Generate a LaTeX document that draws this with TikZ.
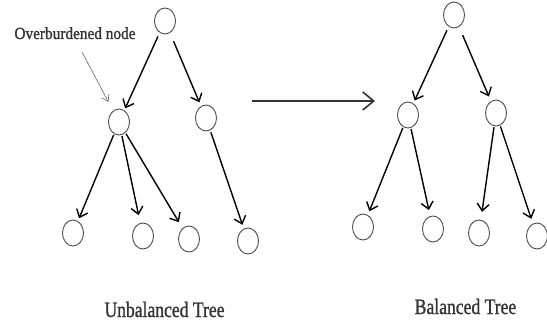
\documentclass[tikz,border=0pt]{standalone}
\usepackage{fontspec}
\setmainfont{Liberation Serif}
\newfontfamily\heavyserif{Liberation Serif}[FakeBold=1.2]
\usetikzlibrary{arrows.meta,shapes.geometric}

\tikzset{
  vertex/.style={ellipse, draw=black!70, line width=0.9pt, minimum width=21pt,
                 minimum height=26pt, inner sep=0pt},
  edge/.style={draw=black, line width=1.4pt,
               -{Straight Barb[length=7pt,width=12pt,line width=1.4pt]}},
  callout/.style={draw=black!60, line width=0.6pt,
                  -{Straight Barb[length=6pt,width=8pt,line width=0.6pt]}},
  bigarrow/.style={draw=black!80, line width=1.8pt,
                   -{Straight Barb[length=11pt,width=18pt,line width=1.6pt]}},
  caption/.style={text=black!80, inner sep=0pt, font=\heavyserif\fontsize{22}{24}\selectfont},
  note/.style={text=black!80, inner sep=0pt, font=\heavyserif\fontsize{17}{19}\selectfont}
}

\begin{document}
\begin{tikzpicture}[x=1pt, y=-1pt]
\useasboundingbox (0,0) rectangle (547,326);

% unbalanced tree
\node[vertex] (uroot) at (165,21) {};
\node[vertex] (uheavy) at (119,122) {};
\node[vertex] (uright) at (206,118) {};
\node[vertex] (ul1) at (73,233) {};
\node[vertex] (ul2) at (143,236) {};
\node[vertex] (ul3) at (189,239) {};
\node[vertex] (ul4) at (248,241) {};

\draw[edge, shorten <=4pt, shorten >=2pt] (uroot) -- (uheavy);
\draw[edge, shorten <=9pt, shorten >=4pt] (uroot) -- (uright);
\draw[edge, shorten <=1pt, shorten >=3pt] (uheavy) -- (ul1);
\draw[edge, shorten <=1pt, shorten >=8pt] (uheavy) -- (ul2);
\draw[edge, shorten <=1pt, shorten >=7pt] (uheavy) -- (ul3);
\draw[edge, shorten <=2pt, shorten >=4pt] (uright) -- (ul4);

% label for the overloaded vertex
\node[note, anchor=base] (heavylabel) at (75,39) {\scalebox{0.9}[1]{Overburdened node}};
\coordinate (calloutstart) at (82,52);
\draw[callout, shorten >=10pt] (calloutstart) -- (uheavy);

% transformation arrow
\coordinate (arrowstart) at (252,101);
\coordinate (arrowend) at (375,101);
\draw[bigarrow] (arrowstart) -- (arrowend);

% balanced tree
\node[vertex] (broot) at (454,15) {};
\node[vertex] (bleft) at (408,115) {};
\node[vertex] (bright) at (496,113) {};
\node[vertex] (bl1) at (363,227) {};
\node[vertex] (bl2) at (433,229) {};
\node[vertex] (bl3) at (479,233) {};
\node[vertex] (bl4) at (537,236) {};

\draw[edge, shorten <=4pt, shorten >=3pt] (broot) -- (bleft);
\draw[edge, shorten <=9pt, shorten >=5pt] (broot) -- (bright);
\draw[edge, shorten <=1pt, shorten >=4pt] (bleft) -- (bl1);
\draw[edge, shorten <=1pt, shorten >=6pt] (bleft) -- (bl2);
\draw[edge, shorten <=1pt, shorten >=8pt] (bright) -- (bl3);
\draw[edge, shorten <=1pt, shorten >=5pt] (bright) -- (bl4);

% captions
\node[caption, anchor=base] (ucap) at (164.5,317) {\scalebox{0.8}[1]{Unbalanced Tree}};
\node[caption, anchor=base] (bcap) at (465.5,314) {\scalebox{0.8}[1]{Balanced Tree}};
\end{tikzpicture}
\end{document}
